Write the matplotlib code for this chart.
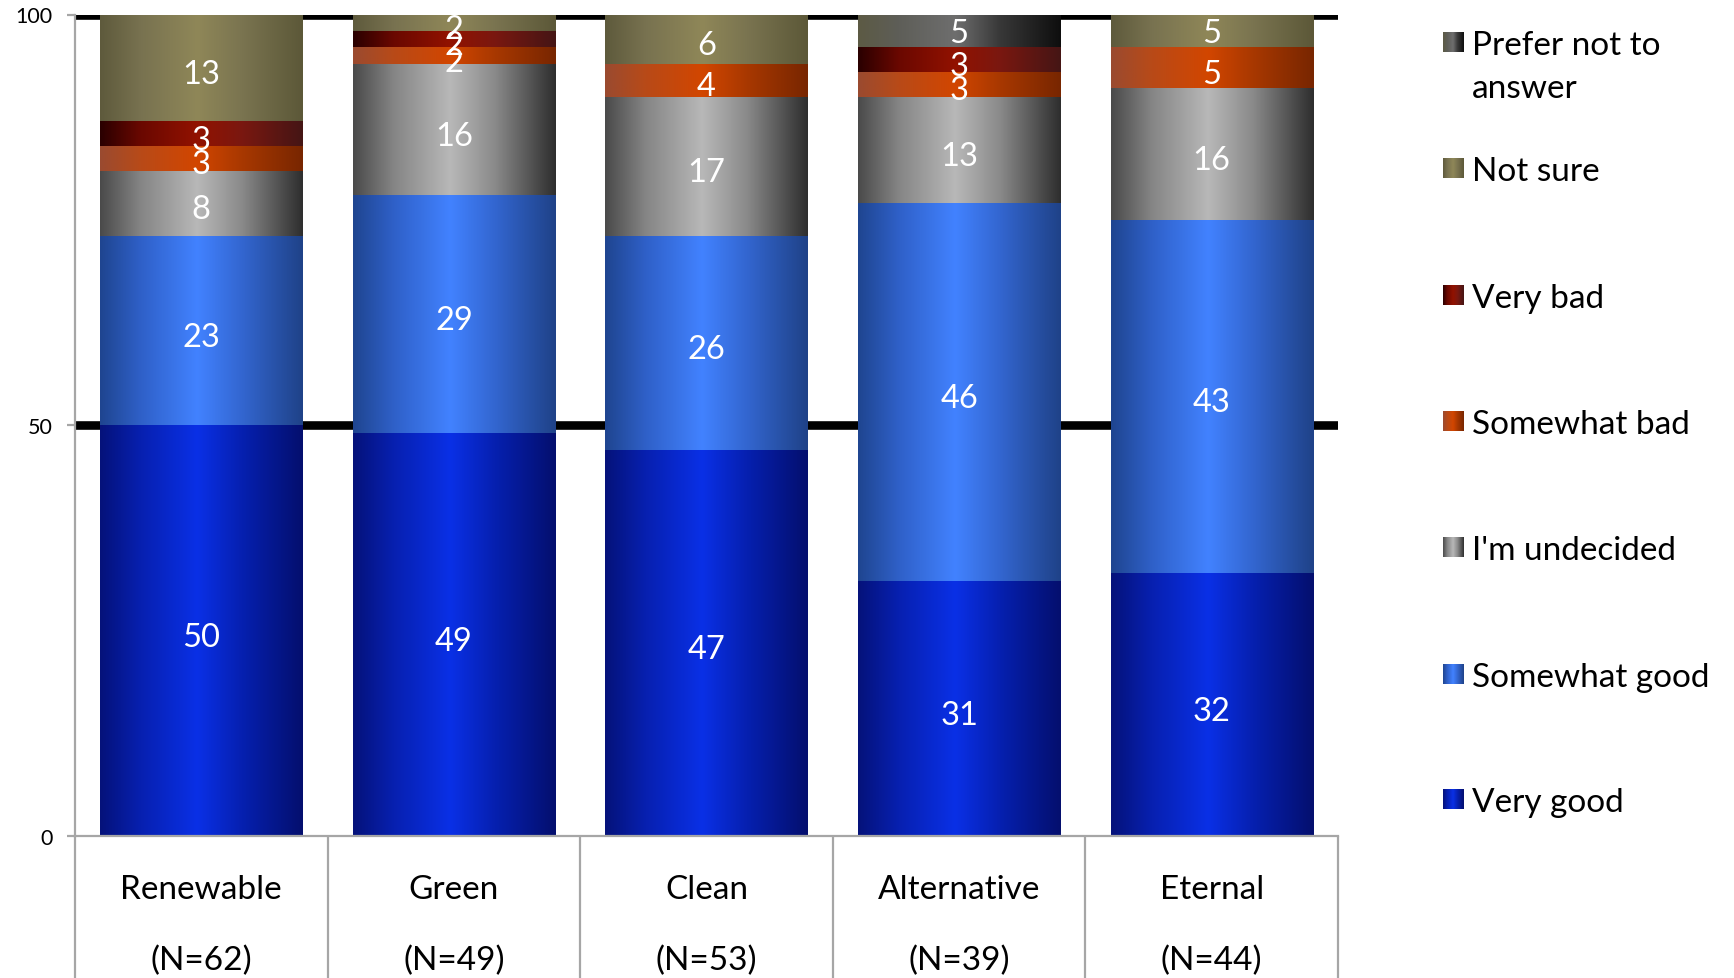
import numpy as np
import matplotlib
matplotlib.use('Agg')
import matplotlib.pyplot as plt
from matplotlib.colors import LinearSegmentedColormap
import matplotlib.transforms as mtransforms

plt.rcParams['font.family'] = ['Lato', 'DejaVu Sans']

# --- data (percent of respondents, bottom to top of each bar) ---
categories = ['Renewable', 'Green', 'Clean', 'Alternative', 'Eternal']
sample_sizes = ['(N=62)', '(N=49)', '(N=53)', '(N=39)', '(N=44)']

very_good = [50, 49, 47, 31, 32]
somewhat_good = [23, 29, 26, 46, 43]
undecided = [8, 16, 17, 13, 16]
somewhat_bad = [3, 2, 4, 3, 5]
very_bad = [3, 2, 0, 3, 0]
not_sure = [13, 2, 6, 0, 5]
prefer_not = [0, 0, 0, 5, 0]

series_names = ['Very good', 'Somewhat good', "I'm undecided", 'Somewhat bad',
                'Very bad', 'Not sure', 'Prefer not to\nanswer']
series_values = [very_good, somewhat_good, undecided, somewhat_bad,
                 very_bad, not_sure, prefer_not]

# horizontal "glossy" gradients (left edge -> highlight -> right edge)
grad_stops = [0.0, 0.2, 0.48, 0.7, 1.0]
series_gradients = [
    ['#05127a', '#0720b0', '#0a30e6', '#0620b0', '#040f6e'],
    ['#1f4590', '#2f60c8', '#4282ff', '#3366d0', '#1f4288'],
    ['#4a4a4a', '#858585', '#b8b8b8', '#8a8a8a', '#2e2e2e'],
    ['#9a4a30', '#b84a18', '#d24600', '#a83800', '#782600'],
    ['#2a0000', '#6a0800', '#921200', '#7a1810', '#451515'],
    ['#5e5a3c', '#787250', '#8f8758', '#7a7450', '#5c5838'],
    ['#5c5a44', '#5e5e58', '#6e6e6e', '#383838', '#0e0e0e'],
]
cmaps = [LinearSegmentedColormap.from_list('g%d' % i, list(zip(grad_stops, cols)))
         for i, cols in enumerate(series_gradients)]
ramp = np.linspace(0, 1, 256).reshape(1, -1)

W, H = 1734, 979
fig = plt.figure(figsize=(W / 100, H / 100), dpi=100)
ax = fig.add_axes([75 / W, 1 - 837 / H, (1338 - 75) / W, (837 - 15.5) / H])
label_trans = mtransforms.offset_copy(ax.transData, fig=fig, y=-6, units='dots')

x = np.arange(len(categories))
bottom = np.zeros(len(categories))
for vals, cmap in zip(series_values, cmaps):
    vals = np.array(vals, dtype=float)
    bars = ax.bar(x, vals, 0.8, bottom=bottom, color=cmap(0.5), zorder=2)
    for b, v in zip(bars, vals):
        if v <= 0:
            continue
        x0, y0, bw, bh = b.get_x(), b.get_y(), b.get_width(), b.get_height()
        ax.imshow(ramp, cmap=cmap, extent=(x0, x0 + bw, y0, y0 + bh),
                  aspect='auto', interpolation='bilinear', zorder=2.1)
        ax.text(x0 + bw / 2, y0 + bh / 2, '%d' % v, color='white',
                ha='center', va='center', fontsize=23.5, zorder=3,
                transform=label_trans)
    bottom += vals

ax.set_xlim(-0.5, len(categories) - 0.5)
ax.set_ylim(0, 100)

# heavy black gridlines behind the bars
for yv in (50, 100):
    ax.axhline(yv, color='black', lw=6.2, zorder=1, solid_capstyle='butt')

for s in ('top', 'right'):
    ax.spines[s].set_visible(False)
for s in ('left', 'bottom'):
    ax.spines[s].set_color('#a6a6a6')
    ax.spines[s].set_linewidth(1.6)
ax.set_yticks([0, 50, 100])
ax.set_yticklabels(['0', '50', '100'], fontsize=15.5)
ax.tick_params(axis='y', length=6, width=1.6, color='#a6a6a6', pad=10)
ax.set_xticks([])

# category table below the axis
trans = mtransforms.blended_transform_factory(ax.transData, ax.transAxes)
ax.vlines(np.arange(len(categories) + 1) - 0.5, -0.2, 0, transform=trans,
          color='#a6a6a6', lw=1.6, clip_on=False)
for xi, cat, n in zip(x, categories, sample_sizes):
    ax.text(xi, -0.065, cat, transform=trans, ha='center', va='center', fontsize=24)
    ax.text(xi, -0.151, n, transform=trans, ha='center', va='center', fontsize=24)

# legend on the right, top entry first
lax = fig.add_axes([0, 0, 1, 1], zorder=-1)
row_y = [800, 675, 548, 422, 296, 169, 43]
for name, cmap, yc in zip(series_names, cmaps, row_y):
    lax.imshow(ramp, cmap=cmap, extent=(1443, 1464, yc + 10, yc - 10),
               aspect='auto', interpolation='bilinear')
    for k, line in enumerate(name.split('\n')):
        lax.text(1472, yc + 12 + 43 * k, line, ha='left', va='baseline', fontsize=24)
lax.set_xlim(0, W)
lax.set_ylim(H, 0)
lax.axis('off')

fig.savefig('out.png', dpi=100)
